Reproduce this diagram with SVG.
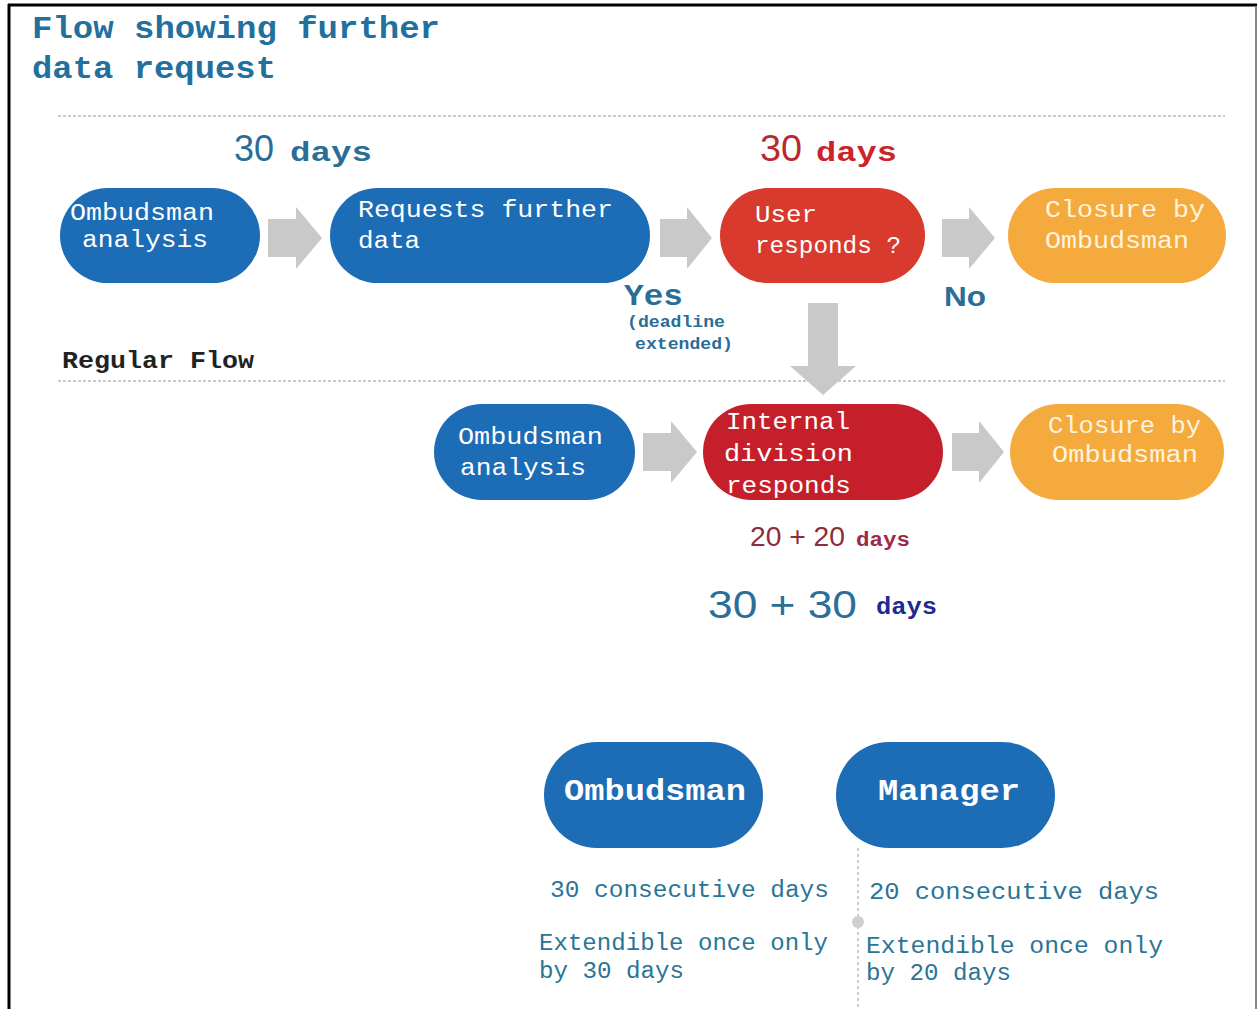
<svg xmlns="http://www.w3.org/2000/svg" width="1257" height="1009" viewBox="0 0 1257 1009">
<style>
.mono{font-family:"Liberation Mono","Courier New",monospace}
.sans{font-family:"Liberation Sans",Arial,sans-serif}
.nt{font-family:"Liberation Mono","Courier New",monospace;font-size:23px;fill:#ffffff}
.ot{fill:#fff4de}
.blue{fill:#1c6cb6}
.red{fill:#d83a2e}
.dred{fill:#c51f2b}
.orange{fill:#f5aa3d}
.arrow{fill:#c9c9c9}
.dash{stroke:#c9c9c9;stroke-width:2;stroke-dasharray:3 2;fill:none}
.info{font-family:"Liberation Mono","Courier New",monospace;font-size:23px;fill:#2a7596}
</style>
<rect x="0" y="0" width="1257" height="1009" fill="#ffffff"/>
<line x1="8" y1="5" x2="1257" y2="5" stroke="#000" stroke-width="3"/>
<line x1="9" y1="4" x2="9" y2="1009" stroke="#000" stroke-width="3"/>
<line x1="1256" y1="6" x2="1256" y2="1009" stroke="#888" stroke-width="2"/>

<g id="title" class="mono" font-weight="bold" font-size="31" fill="#21709d">
<text x="32" y="38" textLength="408" lengthAdjust="spacingAndGlyphs">Flow showing further</text>
<text x="32" y="78" textLength="244" lengthAdjust="spacingAndGlyphs">data request</text>
</g>

<line class="dash" x1="58" y1="116" x2="1225" y2="116"/>
<line class="dash" x1="58" y1="381" x2="1225" y2="381"/>

<g id="label-30days-blue">
<text class="sans" x="234" y="161" font-size="36" fill="#2a6d96" textLength="40" lengthAdjust="spacingAndGlyphs">30</text>
<text class="mono" x="290" y="161" font-size="28" font-weight="bold" fill="#2a6d96" textLength="82" lengthAdjust="spacingAndGlyphs">days</text>
</g>
<g id="label-30days-red">
<text class="sans" x="760" y="161" font-size="36" fill="#b92a30" textLength="42" lengthAdjust="spacingAndGlyphs">30</text>
<text class="mono" x="816" y="161" font-size="28" font-weight="bold" fill="#cc2229" textLength="81" lengthAdjust="spacingAndGlyphs">days</text>
</g>

<g id="connectors">
<polygon class="arrow" points="268,219 296,219 296,207 322,238 296,269 296,257 268,257"/>
<polygon class="arrow" points="660,219 687,219 687,207 712,238 687,269 687,257 660,257"/>
<polygon class="arrow" points="942,219 969,219 969,207 995,238 969,269 969,257 942,257"/>
<polygon class="arrow" points="808,303 838,303 838,366 856,366 823,395 790,366 808,366"/>
<polygon class="arrow" points="643,433 671,433 671,421 697,452 671,483 671,471 643,471"/>
<polygon class="arrow" points="952,433 979,433 979,421 1004,452 979,483 979,471 952,471"/>
</g>

<g id="n-ombudsman-analysis-1">
<rect class="blue" x="60" y="188" width="200" height="95" rx="47.5"/>
<text class="nt" x="70" y="220" textLength="144" lengthAdjust="spacingAndGlyphs">Ombudsman</text>
<text class="nt" x="82" y="247" textLength="126" lengthAdjust="spacingAndGlyphs">analysis</text>
</g>
<g id="n-requests-further-data">
<rect class="blue" x="330" y="188" width="320" height="95" rx="47.5"/>
<text class="nt" x="358" y="217" textLength="255" lengthAdjust="spacingAndGlyphs">Requests further</text>
<text class="nt" x="358" y="248" textLength="62" lengthAdjust="spacingAndGlyphs">data</text>
</g>
<g id="n-user-responds">
<rect class="red" x="720" y="188" width="205" height="95" rx="47.5"/>
<text class="nt" x="755" y="222" textLength="62" lengthAdjust="spacingAndGlyphs">User</text>
<text class="nt" x="755" y="253" textLength="146" lengthAdjust="spacingAndGlyphs">responds ?</text>
</g>
<g id="n-closure-1">
<rect class="orange" x="1008" y="188" width="218" height="95" rx="47.5"/>
<text class="nt ot" x="1045" y="217" textLength="160" lengthAdjust="spacingAndGlyphs">Closure by</text>
<text class="nt ot" x="1045" y="248" textLength="144" lengthAdjust="spacingAndGlyphs">Ombudsman</text>
</g>

<g id="label-yes" fill="#2a6d96" font-weight="bold">
<text class="mono" x="624" y="305" font-size="30" textLength="59" lengthAdjust="spacingAndGlyphs">Yes</text>
<text class="mono" x="627" y="327" font-size="17" textLength="98" lengthAdjust="spacingAndGlyphs">(deadline</text>
<text class="mono" x="635" y="349" font-size="17" textLength="98" lengthAdjust="spacingAndGlyphs">extended)</text>
</g>
<g id="label-no">
<text class="sans" x="944" y="306" font-size="28" font-weight="bold" fill="#2a6d96" textLength="42" lengthAdjust="spacingAndGlyphs">No</text>
</g>
<g id="label-regular-flow">
<text class="mono" x="62" y="368" font-size="24" font-weight="bold" fill="#222" textLength="192" lengthAdjust="spacingAndGlyphs">Regular Flow</text>
</g>

<g id="n-ombudsman-analysis-2">
<rect class="blue" x="434" y="404" width="201" height="96" rx="48"/>
<text class="nt" x="458" y="444" textLength="145" lengthAdjust="spacingAndGlyphs">Ombudsman</text>
<text class="nt" x="460" y="475" textLength="126" lengthAdjust="spacingAndGlyphs">analysis</text>
</g>
<g id="n-internal-division">
<rect class="dred" x="703" y="404" width="240" height="96" rx="48"/>
<text class="nt" x="726" y="429" textLength="124" lengthAdjust="spacingAndGlyphs">Internal</text>
<text class="nt" x="724" y="461" textLength="129" lengthAdjust="spacingAndGlyphs">division</text>
<text class="nt" x="726" y="493" textLength="125" lengthAdjust="spacingAndGlyphs">responds</text>
</g>
<g id="n-closure-2">
<rect class="orange" x="1010" y="404" width="214" height="96" rx="48"/>
<text class="nt ot" x="1048" y="433" textLength="153" lengthAdjust="spacingAndGlyphs">Closure by</text>
<text class="nt ot" x="1052" y="462" textLength="146" lengthAdjust="spacingAndGlyphs">Ombudsman</text>
</g>

<g id="label-20-20-days">
<text class="sans" x="750" y="546" font-size="28" fill="#8e2c3c" textLength="95" lengthAdjust="spacingAndGlyphs">20 + 20</text>
<text class="mono" x="856" y="546" font-size="20" font-weight="bold" fill="#9c2a45" textLength="54" lengthAdjust="spacingAndGlyphs">days</text>
</g>
<g id="label-30-30-days">
<text class="sans" x="708" y="618" font-size="38" fill="#2b6e98" textLength="149" lengthAdjust="spacingAndGlyphs">30 + 30</text>
<text class="mono" x="876" y="614" font-size="23" font-weight="bold" fill="#1c2b8f" textLength="61" lengthAdjust="spacingAndGlyphs">days</text>
</g>

<g id="n-ombudsman">
<rect class="blue" x="544" y="742" width="219" height="106" rx="53"/>
<text class="mono" x="655" y="800" font-size="30" font-weight="bold" fill="#fff" text-anchor="middle" textLength="182" lengthAdjust="spacingAndGlyphs">Ombudsman</text>
</g>
<g id="n-manager">
<rect class="blue" x="836" y="742" width="219" height="106" rx="53"/>
<text class="mono" x="949" y="800" font-size="30" font-weight="bold" fill="#fff" text-anchor="middle" textLength="142" lengthAdjust="spacingAndGlyphs">Manager</text>
</g>

<g id="divider">
<line x1="858" y1="848" x2="858" y2="1009" stroke="#bdbdbd" stroke-width="1.5" stroke-dasharray="3 3"/>
<circle cx="858" cy="922" r="6" fill="#cfcfcf"/>
</g>

<g id="ombudsman-info">
<text class="info" x="550" y="897" textLength="279" lengthAdjust="spacingAndGlyphs">30 consecutive days</text>
<text class="info" x="539" y="950" textLength="289" lengthAdjust="spacingAndGlyphs">Extendible once only</text>
<text class="info" x="539" y="978" textLength="145" lengthAdjust="spacingAndGlyphs">by 30 days</text>
</g>
<g id="manager-info">
<text class="info" x="869" y="899" textLength="290" lengthAdjust="spacingAndGlyphs">20 consecutive days</text>
<text class="info" x="866" y="953" textLength="297" lengthAdjust="spacingAndGlyphs">Extendible once only</text>
<text class="info" x="866" y="980" textLength="145" lengthAdjust="spacingAndGlyphs">by 20 days</text>
</g>
</svg>
